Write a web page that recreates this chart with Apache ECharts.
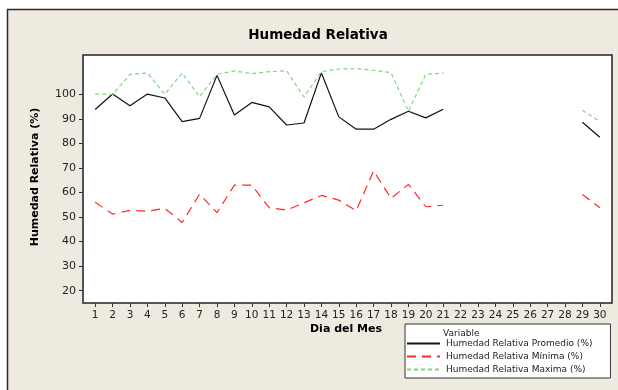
<!DOCTYPE html>
<html>
<head>
<meta charset="utf-8">
<script src="https://cdn.jsdelivr.net/npm/echarts@6/dist/echarts.min.js"></script>
<style>
html,body{margin:0;padding:0;background:#fff;}
#c{width:618px;height:390px;}
</style>
</head>
<body>
<div id="c"></div>
<script>
const days = [1,2,3,4,5,6,7,8,9,10,11,12,13,14,15,16,17,18,19,20,21,22,23,24,25,26,27,28,29,30];
const promedio = [93.8,100.1,95.3,100.1,98.5,88.9,90.2,107.7,91.6,96.7,94.9,87.5,88.3,108.7,90.8,85.8,85.8,89.8,93.1,90.4,93.9,null,null,null,null,null,null,null,88.6,82.5];
const minima = [56.0,51.2,52.7,52.4,53.5,47.8,59.3,51.8,63.0,63.0,53.8,52.8,55.8,58.8,56.9,52.6,68.8,57.6,63.3,54.2,54.8,null,null,null,null,null,null,null,59.2,53.8];
const maxima = [100.1,100.0,108.1,108.7,100.0,108.7,99.0,108.1,109.5,108.4,109.2,109.6,98.9,109.2,110.3,110.4,109.8,108.8,93.1,108.1,108.7,null,null,null,null,null,null,null,93.5,88.9];
const yTicks = [20,30,40,50,60,70,80,90,100];
const seriesNames = ['Humedad Relativa Promedio (%)','Humedad Relativa Mínima (%)','Humedad Relativa Maxima (%)'];

const FONT = 'DejaVu Sans';
const chart = echarts.init(document.getElementById('c'));
function pairs(arr){ return days.map((d,i)=>[d, arr[i]]); }

chart.setOption({
  animation:false,
  backgroundColor:'#ffffff',
  graphic:[
    {type:'rect', z:-10, shape:{x:7.5,y:9.5,width:620,height:400}, style:{fill:'#EFEAE0', stroke:'#2a2a2a', lineWidth:1.5}},
    {type:'text', x:318, y:35, style:{text:'Humedad Relativa', font:'bold 13.5px '+FONT, fill:'#000', align:'center', verticalAlign:'middle'}},
    {type:'text', x:346, y:329, style:{text:'Dia del Mes', font:'bold 11px '+FONT, fill:'#000', align:'center', verticalAlign:'middle'}},
    {type:'text', x:35, y:177, rotation:Math.PI/2, style:{text:'Humedad Relativa (%)', font:'bold 11px '+FONT, fill:'#000', align:'center', verticalAlign:'middle'}},
    {type:'text', x:443, y:334, style:{text:'Variable', font:'9px '+FONT, fill:'#222', verticalAlign:'middle'}, z:100}
  ],
  grid:{left:83, top:55, right:6, bottom:87, show:true, backgroundColor:'#ffffff', borderColor:'#222', borderWidth:1.5},
  xAxis:{
    type:'value', min:0.3, max:30.7,
    axisLine:{show:false},
    splitLine:{show:false},
    axisTick:{show:true, length:4, lineStyle:{color:'#333'}, customValues:days},
    axisLabel:{customValues:days, fontFamily:FONT, fontSize:10.5, color:'#222', margin:7}
  },
  yAxis:{
    type:'value', min:15, max:116,
    axisLine:{show:false},
    splitLine:{show:false},
    axisTick:{show:true, length:4, lineStyle:{color:'#333'}, customValues:yTicks},
    axisLabel:{customValues:yTicks, fontFamily:FONT, fontSize:11, color:'#222', margin:7}
  },
  legend:{
    orient:'vertical', left:405, top:324, width:190,
    padding:[15,18,4,1],
    itemGap:4, itemWidth:33, itemHeight:10,
    borderColor:'#333', borderWidth:1, backgroundColor:'#fff',
    itemStyle:{opacity:0},
    lineStyle:{opacity:1},
    textStyle:{fontFamily:FONT, fontSize:9, color:'#222', padding:[0,0,0,1]},
    data:seriesNames
  },
  series:[
    {name:seriesNames[0], type:'line', data:pairs(promedio), symbol:'none', connectNulls:false,
     lineStyle:{color:'#111', width:1.2, type:'solid'}, itemStyle:{color:'#111'}},
    {name:seriesNames[1], type:'line', data:pairs(minima), symbol:'none', connectNulls:false,
     lineStyle:{color:'#FF2A2A', width:1.2, type:[9,6]}, itemStyle:{color:'#FF2A2A'}},
    {name:seriesNames[2], type:'line', data:pairs(maxima), symbol:'none', connectNulls:false,
     lineStyle:{color:'#7ED67E', width:1.2, type:[4,3]}, itemStyle:{color:'#7ED67E'}}
  ]
});
</script>
</body>
</html>
